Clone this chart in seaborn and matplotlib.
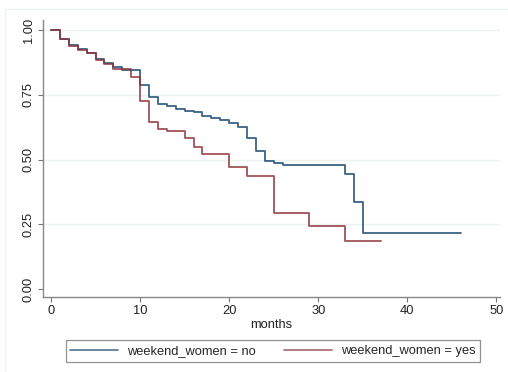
import matplotlib
matplotlib.use('Agg')
import matplotlib.pyplot as plt
import pandas as pd
import seaborn as sns
from matplotlib.patches import Rectangle

# Kaplan-Meier estimates
no_months = [0, 1, 2, 3, 4, 5, 6, 7, 8, 10, 11, 12, 13, 14, 15, 16, 17, 18, 19, 20,
             21, 22, 23, 24, 25, 26, 33, 34, 35, 46]
no_surv = [1.0, 0.965, 0.942, 0.927, 0.912, 0.888, 0.871, 0.856, 0.845, 0.788, 0.742,
           0.714, 0.707, 0.694, 0.689, 0.683, 0.670, 0.659, 0.653, 0.643, 0.624, 0.584,
           0.534, 0.494, 0.485, 0.477, 0.444, 0.337, 0.215, 0.215]

yes_months = [0, 1, 2, 3, 4, 5, 6, 7, 9, 10, 11, 12, 13, 15, 16, 17, 20, 22, 25, 29, 33, 37]
yes_surv = [1.0, 0.965, 0.940, 0.925, 0.910, 0.886, 0.869, 0.849, 0.817, 0.727, 0.644,
            0.618, 0.611, 0.582, 0.549, 0.520, 0.470, 0.436, 0.295, 0.243, 0.185, 0.185]

groups = ['weekend_women = no', 'weekend_women = yes']
colors = ['#1a476f', '#90353b']

x_ticks = [0, 10, 20, 30, 40, 50]
y_ticks = [0.0, 0.25, 0.5, 0.75, 1.0]

df = pd.concat([
    pd.DataFrame({'months': no_months, 'surv': no_surv, 'group': groups[0]}),
    pd.DataFrame({'months': yes_months, 'surv': yes_surv, 'group': groups[1]}),
], ignore_index=True)

sns.set_theme(style='white')
plt.rcParams['font.family'] = ['Liberation Sans', 'DejaVu Sans']

fig = plt.figure(figsize=(5.08, 3.72), dpi=100)
fig.patch.set_facecolor('white')
ax = fig.add_axes([43 / 508, 1 - 297 / 372, 457 / 508, 277 / 372])

for yv in y_ticks[1:]:
    ax.axhline(yv, color='#eaf2f3', lw=1.0, zorder=0)

sns.lineplot(data=df, x='months', y='surv', hue='group', palette=colors,
             drawstyle='steps-post', estimator=None, linewidth=1.3, alpha=0.85,
             ax=ax, legend=False)

ax.set_xlim(-0.9, 50.4)
ax.set_ylim(-0.031, 1.039)
ax.set_xticks(x_ticks)
ax.set_yticks(y_ticks)
ax.set_yticklabels(['0.00', '0.25', '0.50', '0.75', '1.00'], rotation=90, va='center')
ax.tick_params(axis='both', direction='out', length=3.5, width=0.8, color='#777777',
               labelsize=9.3, labelcolor='#222222', pad=2.5)
ax.tick_params(axis='x', bottom=True)
ax.tick_params(axis='y', left=True)
for side in ['top', 'right']:
    ax.spines[side].set_visible(False)
for side in ['left', 'bottom']:
    ax.spines[side].set_color('#888888')
    ax.spines[side].set_linewidth(1.0)

ax.set_xlabel('months', fontsize=9.3, color='#222222', labelpad=1)
ax.set_ylabel('')

handles = [plt.Line2D([], [], color=c, lw=1.3, alpha=0.7) for c in colors]
leg = fig.legend(handles, groups, loc='center', bbox_to_anchor=(273 / 508, 1 - 351 / 372),
                 ncol=2, fontsize=9.3, frameon=True, fancybox=False, handlelength=3.7,
                 columnspacing=2.2, borderpad=0.35, handletextpad=0.7)
leg.get_frame().set_edgecolor('#777777')
leg.get_frame().set_linewidth(0.9)

# faint outer frame of the graph region
fig.patches.append(Rectangle((5 / 508, -0.01), 1.0, 1 - 9 / 372 + 0.01, transform=fig.transFigure,
                             fill=False, edgecolor='#eef2f4', lw=1.0, zorder=-1))

fig.savefig('out.png', dpi=100, facecolor='white')
